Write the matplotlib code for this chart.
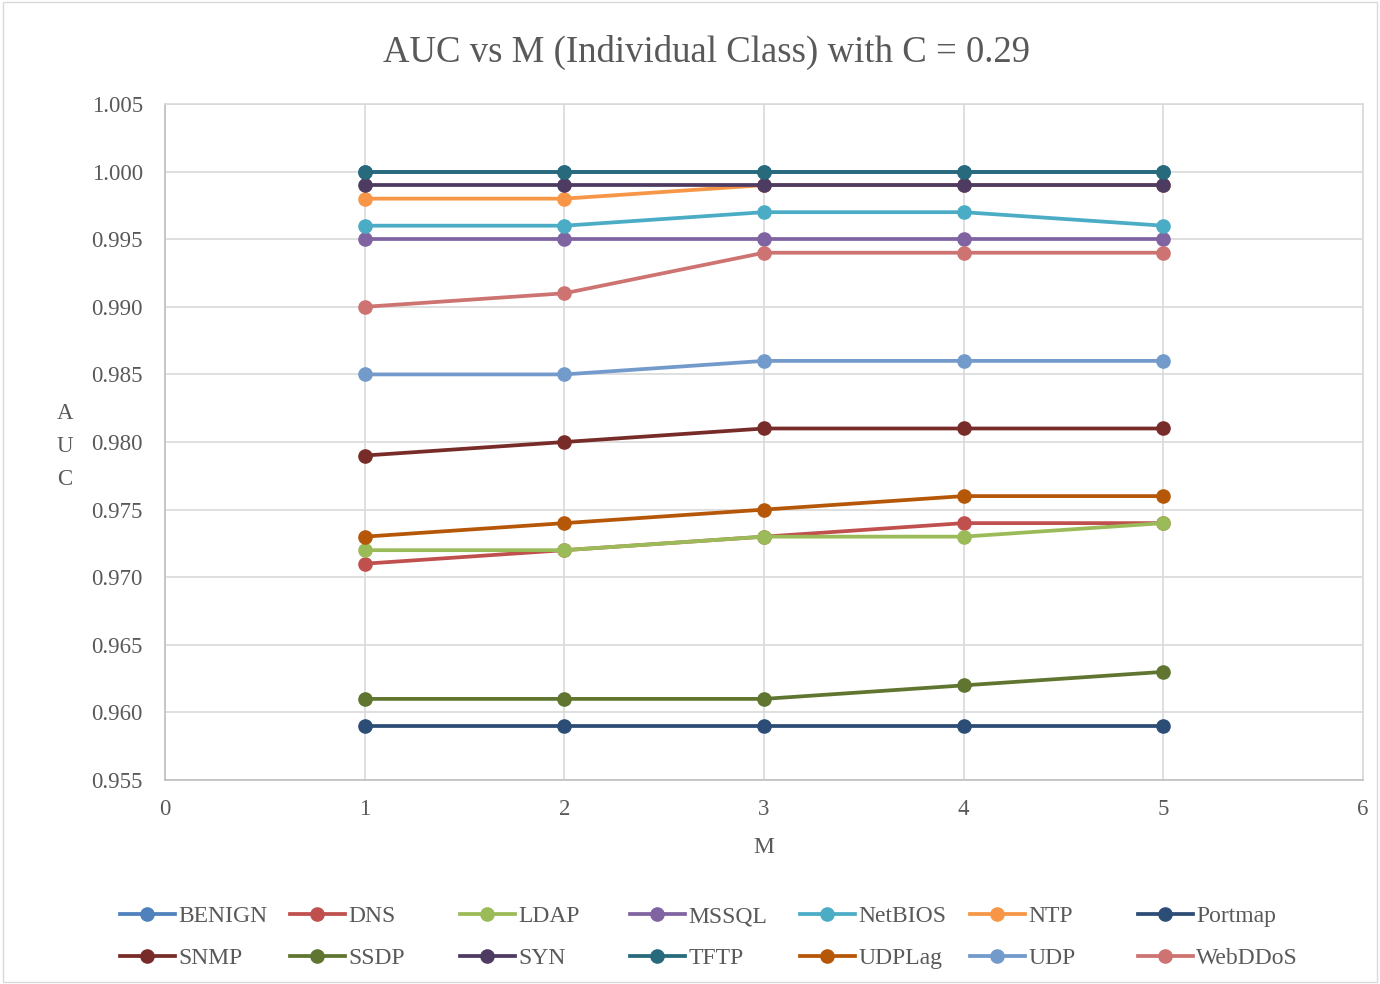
import matplotlib.pyplot as plt
from matplotlib.lines import Line2D

m_values = [1, 2, 3, 4, 5]

series_names = ['BENIGN', 'DNS', 'LDAP', 'MSSQL', 'NetBIOS', 'NTP', 'Portmap',
                'SNMP', 'SSDP', 'SYN', 'TFTP', 'UDPLag', 'UDP', 'WebDDoS']

auc_benign = [1.000, 1.000, 1.000, 1.000, 1.000]
auc_dns = [0.971, 0.972, 0.973, 0.974, 0.974]
auc_ldap = [0.972, 0.972, 0.973, 0.973, 0.974]
auc_mssql = [0.995, 0.995, 0.995, 0.995, 0.995]
auc_netbios = [0.996, 0.996, 0.997, 0.997, 0.996]
auc_ntp = [0.998, 0.998, 0.999, 0.999, 0.999]
auc_portmap = [0.959, 0.959, 0.959, 0.959, 0.959]
auc_snmp = [0.979, 0.980, 0.981, 0.981, 0.981]
auc_ssdp = [0.961, 0.961, 0.961, 0.962, 0.963]
auc_syn = [0.999, 0.999, 0.999, 0.999, 0.999]
auc_tftp = [1.000, 1.000, 1.000, 1.000, 1.000]
auc_udplag = [0.973, 0.974, 0.975, 0.976, 0.976]
auc_udp = [0.985, 0.985, 0.986, 0.986, 0.986]
auc_webddos = [0.990, 0.991, 0.994, 0.994, 0.994]

all_series = [auc_benign, auc_dns, auc_ldap, auc_mssql, auc_netbios, auc_ntp,
              auc_portmap, auc_snmp, auc_ssdp, auc_syn, auc_tftp, auc_udplag,
              auc_udp, auc_webddos]

colors = ['#4F81BD', '#C0504D', '#9BBB59', '#8064A2', '#4BACC6', '#F79646',
          '#2C4D75', '#772C2A', '#5F7530', '#4D3B62', '#276A7C', '#B65708',
          '#729ACA', '#CD7371']

plt.rcParams['font.family'] = ['Liberation Serif', 'DejaVu Serif']
txt_col = '#595959'

fig = plt.figure(figsize=(13.8, 9.84), dpi=100)
ax = fig.add_axes([0.1196, 0.2073, 0.8681, 0.687])

for name, vals, col in zip(series_names, all_series, colors):
    ax.plot(m_values, vals, color=col, linewidth=2.7, marker='o',
            markersize=9.5, label=name, zorder=3)

ax.set_xlim(0, 6)
ax.set_ylim(0.955, 1.005)
ax.set_xticks(range(0, 7))
ax.set_yticks([0.955 + 0.005 * i for i in range(11)])
ax.set_yticklabels(['%.3f' % (0.955 + 0.005 * i) for i in range(11)])
ax.grid(True, color='#D9D9D9', linewidth=1.2, zorder=0)
for side, s in ax.spines.items():
    s.set_color('#BFBFBF' if side in ('left', 'bottom') else '#D9D9D9')
    s.set_linewidth(1.2)
ax.tick_params(length=0, labelsize=16.5, colors=txt_col)
ax.tick_params(axis='y', pad=16)
ax.tick_params(axis='x', pad=14)

fig.text(0.512, 0.947, 'AUC vs M (Individual Class) with C = 0.29',
         fontsize=26.5, color=txt_col, ha='center', va='center')
ax.set_xlabel('M', fontsize=17, color=txt_col, labelpad=12)
fig.text(0.047, 0.546, 'A\nU\nC', fontsize=16.5, color=txt_col,
         ha='center', va='center', linespacing=1.75)

# legend laid out row by row with even column spacing
col_x = [120, 290, 460, 630, 800, 970, 1138]
for j, x0 in enumerate(col_x):
    idx = [j, j + 7]
    hs = [Line2D([0], [0], color=colors[i], linewidth=2.7, marker='o',
                 markersize=9.5) for i in idx]
    fig.legend(hs, [series_names[i] for i in idx], loc='upper left',
               bbox_to_anchor=(x0 / 1380 - 0.0135, 1 - 887 / 984),
               frameon=False, fontsize=17, labelcolor=txt_col,
               handlelength=2.3, handletextpad=0.15, labelspacing=0.86,
               borderpad=0.3)

fig.patches.append(plt.Rectangle((0.002, 0.002), 0.996, 0.996,
                                 transform=fig.transFigure, fill=False,
                                 edgecolor='#D9D9D9', linewidth=1))

fig.savefig('out.png', dpi=100)
plt.close()
